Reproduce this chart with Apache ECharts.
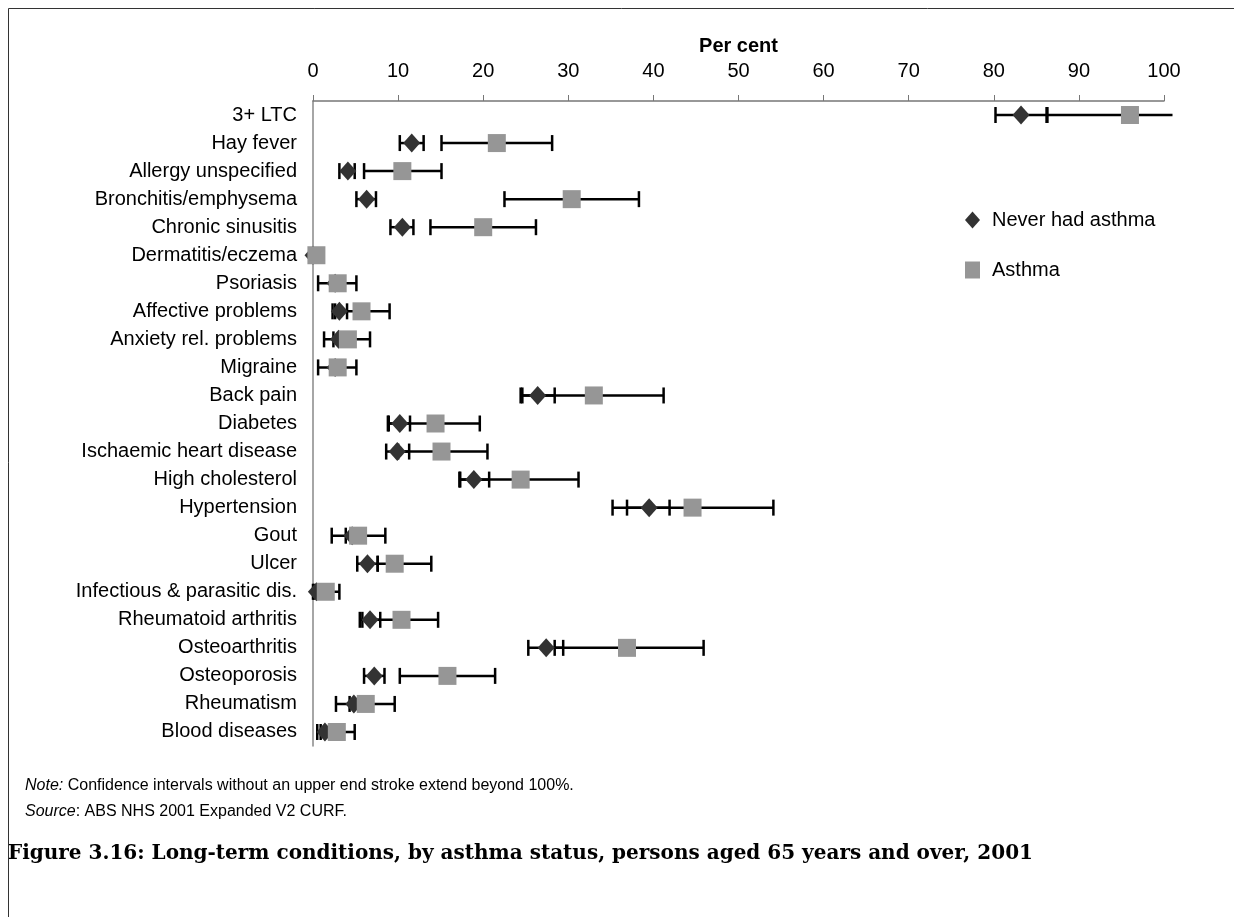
<!DOCTYPE html>
<html>
<head>
<meta charset="utf-8">
<script src="https://cdn.jsdelivr.net/npm/echarts@6/dist/echarts.min.js"></script>
<style>
  html, body { margin: 0; padding: 0; background: #fff; }
  #box { width: 1234px; height: 917px; }
</style>
</head>
<body>
<div id="box"></div>
<script>
var categories = ['3+ LTC', 'Hay fever', 'Allergy unspecified', 'Bronchitis/emphysema', 'Chronic sinusitis',
  'Dermatitis/eczema', 'Psoriasis', 'Affective problems', 'Anxiety rel. problems', 'Migraine', 'Back pain',
  'Diabetes', 'Ischaemic heart disease', 'High cholesterol', 'Hypertension', 'Gout', 'Ulcer',
  'Infectious & parasitic dis.', 'Rheumatoid arthritis', 'Osteoarthritis', 'Osteoporosis', 'Rheumatism',
  'Blood diseases'];

// never had asthma: estimate, lower and upper CI
var neverVal  = [83.2, 11.6, 4.1, 6.3, 10.5, 0.0, 2.6, 3.1, 3.0, 2.6, 26.4, 10.2, 9.9, 18.9, 39.5, 4.6, 6.4, 0.4, 6.7, 27.4, 7.2, 4.8, 1.4];
var neverLow  = [80.2, 10.2, 3.1, 5.1, 9.1, 0.0, 2.1, 2.3, 2.4, 2.1, 24.6, 8.9, 8.6, 17.3, 36.9, 3.85, 5.2, 0.0, 5.8, 25.3, 6.0, 4.3, 0.9];
var neverHigh = [86.3, 13.0, 4.9, 7.4, 11.8, 0.0, 3.2, 4.0, 3.6, 3.2, 28.4, 11.4, 11.3, 20.7, 41.9, 5.4, 7.6, 0.8, 7.9, 29.4, 8.4, 5.4, 1.9];

// asthma: estimate, lower and upper CI (101 = runs past 100%)
var asthmaVal  = [96.0, 21.6, 10.5, 30.4, 20.0, 0.4, 2.9, 5.7, 4.1, 2.9, 33.0, 14.4, 15.1, 24.4, 44.6, 5.3, 9.6, 1.5, 10.4, 36.9, 15.8, 6.2, 2.8];
var asthmaLow  = [86.2, 15.1, 6.0, 22.5, 13.8, 0.2, 0.6, 2.6, 1.3, 0.6, 24.4, 8.8, 10.0, 17.2, 35.2, 2.2, 7.6, 0.1, 5.5, 28.4, 10.2, 2.7, 0.5];
var asthmaHigh = [101, 28.1, 15.1, 38.3, 26.2, 0.7, 5.1, 9.0, 6.7, 5.1, 41.2, 19.6, 20.5, 31.2, 54.1, 8.5, 13.9, 3.1, 14.7, 45.9, 21.4, 9.6, 4.9];

var xTicks = [0, 100, 10];

function barData(low, high) {
  return categories.map(function (c, i) { return [i, low[i], high[i]]; });
}
function pointData(vals) {
  return categories.map(function (c, i) { return [vals[i], i]; });
}

function renderBar(params, api) {
  var cat = api.value(0);
  var lo = api.value(1), hi = api.value(2);
  var p1 = api.coord([lo, cat]);
  var p2 = api.coord([hi, cat]);
  var h = 8;
  var st = { stroke: '#000', lineWidth: 2.5 };
  var kids = [
    { type: 'line', shape: { x1: p1[0], y1: p1[1], x2: p2[0], y2: p2[1] }, style: st },
    { type: 'line', shape: { x1: p1[0], y1: p1[1] - h, x2: p1[0], y2: p1[1] + h }, style: st }
  ];
  if (hi <= 100) {
    kids.push({ type: 'line', shape: { x1: p2[0], y1: p2[1] - h, x2: p2[0], y2: p2[1] + h }, style: st });
  }
  return { type: 'group', children: kids };
}

var chart = echarts.init(document.getElementById('box'));
var font = 'Liberation Sans, Arial, sans-serif';

var option = {
  animation: false,
  textStyle: { fontFamily: font },
  grid: { left: 313, top: 101, width: 851, height: 645 },
  xAxis: {
    type: 'value', position: 'top',
    min: xTicks[0], max: xTicks[1], interval: xTicks[2],
    name: 'Per cent', nameLocation: 'middle', nameGap: 44,
    nameTextStyle: { fontSize: 20, fontWeight: 'bold', color: '#000', fontFamily: font },
    axisLine: { show: true, lineStyle: { color: '#777', width: 1.5 } },
    axisTick: { show: true, length: 6, lineStyle: { color: '#777' } },
    axisLabel: { fontSize: 20, color: '#000', margin: 20, fontFamily: font },
    splitLine: { show: false }
  },
  yAxis: {
    type: 'category', inverse: true, data: categories,
    axisLine: { show: true, lineStyle: { color: '#888', width: 1.5 } },
    axisTick: { show: false },
    axisLabel: { fontSize: 20, color: '#000', margin: 16, fontFamily: font },
    splitLine: { show: false }
  },
  legend: {
    orient: 'vertical', left: 960, top: 205, itemGap: 30,
    itemWidth: 15, itemHeight: 17,
    textStyle: { fontSize: 20, color: '#000', lineHeight: 20, padding: [0, 0, 0, 7], fontFamily: font },
    data: [
      { name: 'Never had asthma', icon: 'diamond' },
      { name: 'Asthma', icon: 'rect' }
    ]
  },
  series: [
    {
      type: 'custom', name: 'neverBars', renderItem: renderBar, clip: false,
      encode: { x: [1, 2], y: 0 }, data: barData(neverLow, neverHigh), z: 2
    },
    {
      type: 'custom', name: 'asthmaBars', renderItem: renderBar, clip: false,
      encode: { x: [1, 2], y: 0 }, data: barData(asthmaLow, asthmaHigh), z: 2
    },
    {
      type: 'scatter', name: 'Never had asthma', symbol: 'diamond', symbolSize: [17, 19],
      itemStyle: { color: '#333333', opacity: 1 }, data: pointData(neverVal), z: 3
    },
    {
      type: 'scatter', name: 'Asthma', symbol: 'rect', symbolSize: 18,
      itemStyle: { color: '#969696', opacity: 1 }, data: pointData(asthmaVal), z: 4
    }
  ],
  graphic: [
    { type: 'polyline', shape: { points: [[8.5, 917], [8.5, 8.5], [1234, 8.5]] },
      style: { stroke: '#333', lineWidth: 1, fill: null } },
    { type: 'text', left: 25, top: 778,
      style: { text: '{i|Note:} Confidence intervals without an upper end stroke extend beyond 100%.',
        font: '16px ' + font, fill: '#000',
        rich: { i: { fontStyle: 'italic', fontSize: 16, fontFamily: font } } } },
    { type: 'text', left: 25, top: 804,
      style: { text: '{i|Source}: ABS NHS 2001 Expanded V2 CURF.',
        font: '16px ' + font, fill: '#000',
        rich: { i: { fontStyle: 'italic', fontSize: 16, fontFamily: font } } } },
    { type: 'text', left: 8, top: 844,
      style: { text: 'Figure 3.16: Long-term conditions, by asthma status, persons aged 65 years and over, 2001',
        font: 'bold 20px "DejaVu Serif", serif', fill: '#000' } }
  ]
};

chart.setOption(option);
</script>
</body>
</html>
